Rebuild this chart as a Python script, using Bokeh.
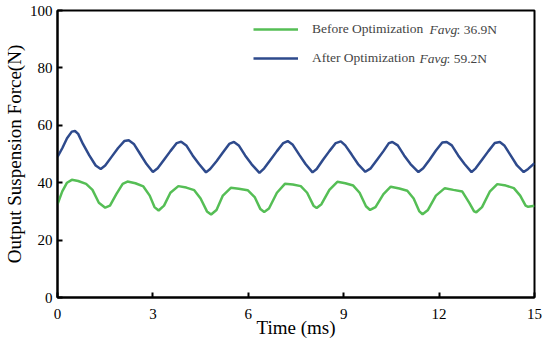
from bokeh.plotting import figure
from bokeh.models import Range1d, FixedTicker, Legend, LegendItem, Label
from bokeh.embed import file_html
from bokeh.resources import INLINE

# ---- data ----
t_before = [0.00, 0.15, 0.30, 0.45, 0.65, 0.90, 1.10, 1.30, 1.50, 1.65, 1.85, 2.05, 2.20, 2.45, 2.70, 2.90,
            3.05, 3.18, 3.35, 3.55, 3.80, 4.05, 4.30, 4.50, 4.70, 4.83, 5.00, 5.20, 5.45, 5.70, 5.98, 6.20,
            6.38, 6.50, 6.65, 6.90, 7.15, 7.40, 7.65, 7.85, 8.05, 8.15, 8.30, 8.55, 8.80, 9.05, 9.30, 9.50,
            9.70, 9.83, 10.00, 10.25, 10.48, 10.75, 11.00, 11.20, 11.38, 11.48, 11.65, 11.90, 12.18, 12.45,
            12.73, 12.95, 13.10, 13.17, 13.35, 13.60, 13.83, 14.10, 14.35, 14.55, 14.72, 14.80, 15.00]
f_before = [32.5, 37.0, 40.0, 41.0, 40.6, 39.6, 37.5, 33.0, 31.3, 32.0, 36.0, 39.6, 40.4, 39.8, 38.7, 35.5,
            31.5, 30.3, 32.0, 36.5, 38.8, 38.3, 37.4, 34.5, 30.0, 28.9, 30.5, 35.5, 38.2, 37.9, 37.4, 35.0,
            30.8, 29.8, 31.0, 36.5, 39.6, 39.4, 38.8, 36.5, 32.0, 31.2, 32.5, 37.5, 40.3, 39.8, 39.0, 36.5,
            31.8, 30.5, 31.5, 36.0, 38.6, 38.0, 37.2, 34.5, 30.0, 29.0, 30.5, 35.5, 38.1, 37.5,
            36.9, 33.0, 30.0, 29.7, 31.5, 37.0, 39.5, 39.0, 38.1, 35.5, 32.0, 31.6, 32.0]

t_after = [0.00, 0.15, 0.30, 0.45, 0.55, 0.65, 0.80, 1.00, 1.20, 1.36, 1.50, 1.70, 1.90, 2.10, 2.24, 2.40,
           2.60, 2.80, 3.00, 3.15, 3.35, 3.55, 3.75, 3.89, 4.05, 4.25, 4.45, 4.67, 4.80, 5.00, 5.20, 5.40,
           5.55, 5.70, 5.90, 6.10, 6.35, 6.50, 6.70, 6.90, 7.10, 7.24, 7.40, 7.60, 7.80, 8.02, 8.15, 8.35,
           8.55, 8.75, 8.91, 9.05, 9.25, 9.45, 9.68, 9.85, 10.05, 10.25, 10.42, 10.53, 10.70, 10.90, 11.10,
           11.35, 11.50, 11.70, 11.90, 12.10, 12.24, 12.40, 12.60, 12.80, 13.02, 13.15, 13.35, 13.55, 13.75,
           13.91, 14.05, 14.25, 14.45, 14.66, 14.80, 15.00]
f_after = [49.0, 52.0, 55.5, 57.8, 58.0, 57.0, 53.5, 49.5, 46.0, 44.8, 46.0, 49.0, 52.0, 54.5, 54.8, 53.5,
           50.0, 46.5, 43.7, 45.0, 48.0, 51.0, 53.8, 54.3, 53.0, 49.5, 46.5, 43.6, 44.8, 47.5, 50.5, 53.5,
           54.2, 53.0, 49.5, 46.5, 43.4, 45.0, 48.0, 51.0, 53.8, 54.5, 53.2, 49.8, 46.5, 43.6, 44.8, 48.0,
           51.0, 53.8, 54.4, 53.0, 49.8, 46.5, 43.8, 45.0, 48.0, 51.0, 53.8, 54.2, 53.0, 49.5, 46.5,
           43.7, 45.0, 48.0, 51.2, 54.0, 54.2, 53.0, 49.5, 46.5, 43.7, 45.0, 48.0, 51.0, 53.8,
           54.2, 53.0, 49.5, 46.0, 43.7, 44.8, 46.8]

x_ticks = [0, 3, 6, 9, 12, 15]
y_ticks = [0, 20, 40, 60, 80, 100]
series_names = ["Before Optimization", "After Optimization"]
favg_values = ["36.9N", "59.2N"]

GREEN = "#55BE55"
BLUE = "#2E4A8C"
FONT = "Liberation Serif"

p = figure(width=550, height=342, output_backend="svg", toolbar_location=None,
           x_range=Range1d(0, 15), y_range=Range1d(0, 100),
           min_border_left=56, min_border_right=16, min_border_top=10, min_border_bottom=45)
p.grid.visible = False
p.outline_line_color = "black"
p.outline_line_width = 2
p.outline_line_alpha = 1

for ax in (p.xaxis[0], p.yaxis[0]):
    ax.axis_line_width = 2
    ax.major_tick_line_width = 2
    ax.major_tick_in = 5
    ax.major_tick_out = 0
    ax.minor_tick_line_color = None
    ax.major_label_text_font = FONT
    ax.major_label_text_font_size = "15px"
    ax.major_label_text_color = "black"
    ax.axis_label_text_font = FONT
    ax.axis_label_text_font_size = "19px"
    ax.axis_label_text_font_style = "normal"
    ax.axis_label_text_color = "black"

p.xaxis.ticker = FixedTicker(ticks=x_ticks)
p.yaxis.ticker = FixedTicker(ticks=y_ticks)
p.xaxis.axis_label = "Time (ms)"
p.yaxis.axis_label = "Output Suspension Force(N)"
p.xaxis.major_label_standoff = 11
p.yaxis.major_label_standoff = 5
p.xaxis.axis_label_standoff = -5
p.yaxis.axis_label_standoff = 2

r1 = p.line(t_before, f_before, line_color=GREEN, line_width=2.5)
r2 = p.line(t_after, f_after, line_color=BLUE, line_width=2.5)

legend = Legend(items=[LegendItem(label=series_names[0], renderers=[r1]),
                       LegendItem(label=series_names[1], renderers=[r2])],
                location=(196, 229), padding=0, margin=0, spacing=9,
                glyph_width=45, glyph_height=20, label_height=20, label_standoff=14,
                label_text_font=FONT, label_text_font_size="13.5px",
                border_line_color=None, background_fill_alpha=0)
p.add_layout(legend)

# italic "Favg" and the value after each legend entry (screen units from frame bottom-left)
rows = [(372, 268), (362, 239)]
for (lx, ly), val in zip(rows, favg_values):
    p.add_layout(Label(x=lx, y=ly, x_units="screen", y_units="screen", text="Favg",
                       text_font=FONT, text_font_style="italic", text_font_size="13.5px",
                       text_baseline="middle"))
    p.add_layout(Label(x=lx + 27, y=ly, x_units="screen", y_units="screen", text=":  " + val,
                       text_font=FONT, text_font_size="13.5px", text_baseline="middle"))

open("out.html", "w").write(file_html(p, INLINE))
